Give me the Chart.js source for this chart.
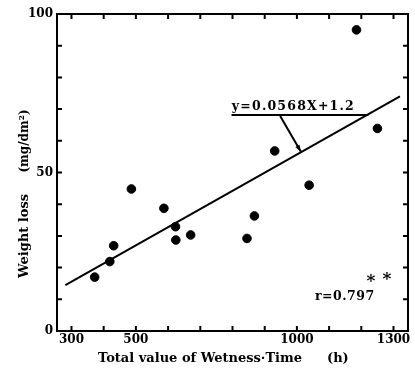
<!DOCTYPE html>
<html>
<head>
<meta charset="utf-8">
<script src="https://cdn.jsdelivr.net/npm/chart.js@4"></script>
<style>
  html, body { margin: 0; padding: 0; background: #fff; }
  canvas { display: block; }
</style>
</head>
<body>
<canvas id="chart" width="415" height="376"></canvas>
<script>
// wetness time (h) vs weight loss (mg/dm2)
const wetnessTime = [372, 419, 431, 486, 587, 623, 624, 670, 845, 868, 931, 1038, 1185, 1250];
const weightLoss  = [17.0, 21.9, 26.9, 44.8, 38.7, 32.9, 28.7, 30.3, 29.2, 36.3, 56.8, 46.0, 95.0, 63.9];

// regression line as drawn on the figure (end points)
const fitX = [281, 1320];
const fitY = [14.5, 74.0];

// axis ticks and labelled values
const xTicks  = [300, 400, 500, 600, 700, 800, 900, 1000, 1100, 1200, 1300];
const xLabels = [300, 500, 1000, 1300];
const yTicks  = [0, 10, 20, 30, 40, 50, 60, 70, 80, 90, 100];
const yLabels = [0, 50, 100];

const equationText = 'y=0.0568X+1.2';
const corrText = 'r=0.797';
const signifText = '*';
const xTitle = 'Total value of Wetness\u00b7Time';
const xUnit = '(h)';
const yTitle = 'Weight loss';
const yUnit = '(mg/dm\u00b2)';

const FONT = '"DejaVu Serif", "Liberation Serif", serif';

// frame, inward ticks, axis titles and the annotations
const decorations = {
  id: 'decorations',
  afterDraw(chart) {
    const { ctx, chartArea: a, scales: { x, y } } = chart;
    const px = v => x.getPixelForValue(v);
    const py = v => y.getPixelForValue(v);
    ctx.save();
    ctx.strokeStyle = '#000';
    ctx.fillStyle = '#000';

    ctx.lineWidth = 2;
    ctx.strokeRect(a.left, a.top, a.right - a.left, a.bottom - a.top);

    ctx.beginPath();
    xTicks.forEach(v => {
      ctx.moveTo(px(v), a.bottom); ctx.lineTo(px(v), a.bottom - 5);
      ctx.moveTo(px(v), a.top); ctx.lineTo(px(v), a.top + 5);
    });
    yTicks.forEach(v => {
      ctx.moveTo(a.left, py(v)); ctx.lineTo(a.left + 5, py(v));
      ctx.moveTo(a.right, py(v)); ctx.lineTo(a.right - 5, py(v));
    });
    ctx.stroke();

    // equation label with underline and leader arrow to the fitted line
    ctx.font = 'bold 12.5px ' + FONT;
    ctx.letterSpacing = '1.2px';
    ctx.textAlign = 'left';
    ctx.textBaseline = 'alphabetic';
    ctx.fillText(equationText, px(798), 110);

    ctx.beginPath();
    ctx.moveTo(px(797), 115);
    ctx.lineTo(px(1222), 115);
    const x0 = px(948), y0 = 116, x1 = px(1012), y1 = py(56.6);
    ctx.moveTo(x0, y0);
    ctx.lineTo(x1, y1);
    ctx.stroke();
    const ang = Math.atan2(y1 - y0, x1 - x0);
    ctx.beginPath();
    ctx.moveTo(x1, y1);
    ctx.lineTo(x1 - 7 * Math.cos(ang - 0.35), y1 - 7 * Math.sin(ang - 0.35));
    ctx.lineTo(x1 - 7 * Math.cos(ang + 0.35), y1 - 7 * Math.sin(ang + 0.35));
    ctx.closePath();
    ctx.fill();

    // correlation coefficient with significance marks
    ctx.letterSpacing = '0.5px';
    ctx.fillText(corrText, px(1056), 300);
    ctx.font = 'bold 17px ' + FONT;
    ctx.letterSpacing = '0px';
    ctx.textAlign = 'center';
    ctx.fillText(signifText, px(1230), 286);
    ctx.fillText(signifText, px(1280), 284);

    // axis titles
    ctx.font = 'bold 13px ' + FONT;
    ctx.textAlign = 'left';
    ctx.fillText(xTitle, 98, 362);
    ctx.fillText(xUnit, 327, 362);

    ctx.translate(28, 0);
    ctx.rotate(-Math.PI / 2);
    ctx.textAlign = 'center';
    ctx.fillText(yTitle, -236, 0);
    ctx.font = 'bold 12px ' + FONT;
    ctx.fillText(yUnit, -141, 0);
    ctx.restore();
  }
};

new Chart(document.getElementById('chart'), {
  type: 'scatter',
  data: {
    datasets: [
      {
        label: 'Weight loss',
        data: wetnessTime.map((v, i) => ({ x: v, y: weightLoss[i] })),
        backgroundColor: '#000',
        borderColor: '#000',
        pointRadius: 4.3,
        pointHoverRadius: 4.3
      },
      {
        type: 'line',
        label: 'Regression',
        data: fitX.map((v, i) => ({ x: v, y: fitY[i] })),
        borderColor: '#000',
        borderWidth: 2,
        pointRadius: 0,
        fill: false
      }
    ]
  },
  options: {
    responsive: false,
    animation: false,
    devicePixelRatio: 1,
    layout: { padding: { left: 0, top: 14, right: 7, bottom: 0 } },
    plugins: {
      legend: { display: false },
      tooltip: { enabled: false }
    },
    scales: {
      x: {
        type: 'linear',
        min: 255,
        max: 1345,
        afterBuildTicks: s => { s.ticks = xTicks.map(v => ({ value: v })); },
        afterFit: s => { s.height = 45; },
        grid: { display: false, drawTicks: false },
        border: { display: false },
        ticks: {
          color: '#000',
          padding: 2,
          maxRotation: 0,
          autoSkip: false,
          font: { family: FONT, size: 12, weight: 'bold' },
          callback: v => xLabels.includes(v) ? String(v) : ''
        }
      },
      y: {
        min: 0,
        max: 100,
        afterBuildTicks: s => { s.ticks = yTicks.map(v => ({ value: v })); },
        afterFit: s => { s.width = 57; },
        grid: { display: false, drawTicks: false },
        border: { display: false },
        ticks: {
          color: '#000',
          padding: 4,
          autoSkip: false,
          font: { family: FONT, size: 12, weight: 'bold' },
          callback: v => yLabels.includes(v) ? String(v) : ''
        }
      }
    }
  },
  plugins: [decorations]
});
</script>
</body>
</html>
